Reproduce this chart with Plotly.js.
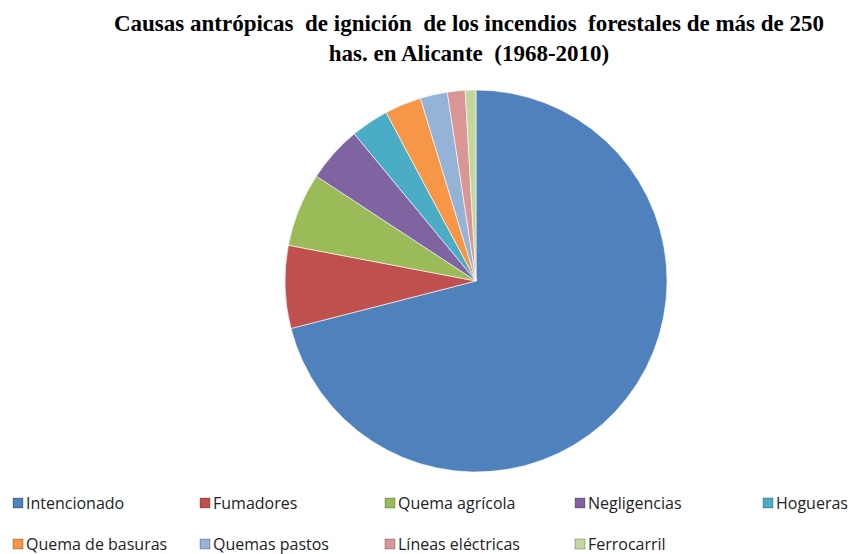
<!DOCTYPE html>
<html>
<head>
<meta charset="utf-8">
<script src="https://cdn.plot.ly/plotly-3.0.1.min.js"></script>
<style>html,body{margin:0;padding:0;background:#fff;}#chart{width:853px;height:554px;}</style>
</head>
<body>
<div id="chart"></div>
<script>
var causes = ["Intencionado", "Fumadores", "Quema agrícola", "Negligencias", "Hogueras",
              "Quema de basuras", "Quemas pastos", "Líneas eléctricas", "Ferrocarril"];
var shares = [71.0, 7.0, 6.25, 4.75, 3.2, 3.1, 2.3, 1.5, 0.9];
var sliceColors = ["#4F81BD", "#C0504D", "#9BBB59", "#8064A2", "#4BACC6",
                   "#F79646", "#95B3D7", "#D99694", "#C3D69B"];
var titleText = "Causas antrópicas  de ignición  de los incendios  forestales de más de 250<br>has. en Alicante  (1968-2010)";

var W = 853, H = 554;
// legend grid (pixels)
var colX = [13, 200, 385, 575, 763];
var rowY = [503, 544];
var shapes = [], annotations = [];
causes.forEach(function (c, i) {
  var col = i < 5 ? i : i - 5;
  var row = i < 5 ? 0 : 1;
  var x0 = colX[col], yc = rowY[row];
  shapes.push({
    type: "rect", xref: "paper", yref: "paper",
    x0: x0 / W, x1: (x0 + 10) / W,
    y0: 1 - (yc + 5) / H, y1: 1 - (yc - 5) / H,
    fillcolor: sliceColors[i], line: {color: "rgba(0,0,0,0.25)", width: 1}
  });
  annotations.push({
    xref: "paper", yref: "paper", x: (x0 + 11) / W, y: 1 - yc / H,
    xanchor: "left", yanchor: "middle", showarrow: false,
    text: c, font: {family: "Open Sans", size: 16, color: "#222"}
  });
});

var trace = {
  type: "pie",
  labels: causes,
  values: shares,
  sort: false,
  direction: "clockwise",
  rotation: 0,
  textinfo: "none",
  hoverinfo: "label+percent",
  marker: {colors: sliceColors, line: {color: "rgba(255,255,255,0.6)", width: 1}},
  domain: {x: [(476 - 191) / W, (476 + 191) / W], y: [1 - 472 / H, 1 - 90 / H]},
  showlegend: false
};

var layout = {
  width: W, height: H,
  margin: {l: 0, r: 0, t: 0, b: 0},
  paper_bgcolor: "#fff",
  showlegend: false,
  title: {
    text: titleText,
    x: 469 / W, xanchor: "center", y: 1 - 31 / H, yanchor: "top",
    font: {family: "Liberation Serif", size: 23, color: "#000", weight: "bold"}
  },
  shapes: shapes,
  annotations: annotations
};

Plotly.newPlot("chart", [trace], layout, {displayModeBar: false, staticPlot: true});
</script>
</body>
</html>
